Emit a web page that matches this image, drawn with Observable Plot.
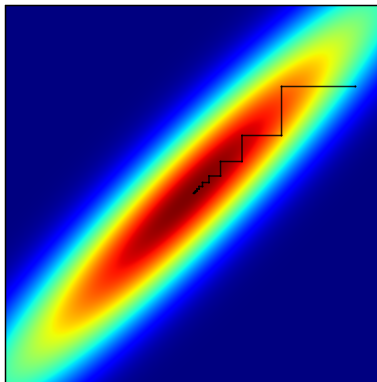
<!DOCTYPE html>
<html>
<head>
<meta charset="utf-8">
<script src="https://cdn.jsdelivr.net/npm/d3@7"></script>
<script src="https://cdn.jsdelivr.net/npm/@observablehq/plot@0.6"></script>
<style>
  html, body { margin: 0; padding: 0; background: #fff; }
  #chart svg { display: block; }
</style>
</head>
<body>
<div id="chart"></div>
<script>
// Coordinate-descent path vertices
const pathX = [1.763, 0.968, 0.968, 0.543, 0.543, 0.312, 0.312, 0.188, 0.188, 0.118, 0.118, 0.081, 0.081, 0.059, 0.059, 0.043, 0.043, 0.032, 0.032, 0.022];
const pathY = [1.141, 1.141, 0.621, 0.621, 0.345, 0.345, 0.191, 0.191, 0.122, 0.122, 0.080, 0.080, 0.053, 0.053, 0.032, 0.032, 0.018, 0.018, 0.007, 0.007];

// Field parameters (estimated)
const center = [-0.01, 0.0];
const coupling = [0.942];
const radius = [0.727];
const shape = [1.1];
const xDomain = [-2, 2];
const yDomain = [-2, 2];

const path = pathX.map((x, i) => ({x, y: pathY[i]}));

function field(x, y) {
  const u = x - center[0], v = y - center[1];
  const q = (u * u + v * v - 2 * coupling[0] * u * v) / (radius[0] * radius[0]);
  return Math.exp(-Math.pow(Math.max(q, 0), shape[0]));
}

function jet(t) {
  t = Math.max(0, Math.min(1, t));
  const seg = (pts) => {
    for (let i = 1; i < pts.length; i++) {
      if (t <= pts[i][0]) {
        const [a, va] = pts[i - 1], [b, vb] = pts[i];
        return va + (vb - va) * (t - a) / (b - a);
      }
    }
    return pts[pts.length - 1][1];
  };
  const r = seg([[0, 0], [0.35, 0], [0.66, 1], [0.89, 1], [1, 0.5]]);
  const g = seg([[0, 0], [0.125, 0], [0.375, 1], [0.64, 1], [0.91, 0], [1, 0]]);
  const b = seg([[0, 0.5], [0.11, 1], [0.34, 1], [0.65, 0], [1, 0]]);
  return `rgb(${Math.round(r * 255)},${Math.round(g * 255)},${Math.round(b * 255)})`;
}

const chart = Plot.plot({
  width: 377,
  height: 382,
  marginLeft: 5,
  marginTop: 5,
  marginRight: 0,
  marginBottom: 0,
  x: {domain: xDomain, axis: null},
  y: {domain: yDomain, axis: null},
  color: {type: "linear", domain: [0, 1], interpolate: jet, clamp: true},
  style: {background: "#fff"},
  marks: [
    Plot.raster({fill: field, x1: xDomain[0], x2: xDomain[1], y1: yDomain[0], y2: yDomain[1], pixelSize: 1}),
    Plot.line(path, {x: "x", y: "y", stroke: "#000", strokeWidth: 1.5, strokeOpacity: 0.85}),
    Plot.dot(path, {x: "x", y: "y", r: 1, fill: "#000", stroke: null}),
    Plot.ruleX([xDomain[0]], {stroke: "#000", strokeWidth: 1.5}),
    Plot.ruleY([yDomain[1]], {stroke: "#000", strokeWidth: 1.5})
  ]
});
document.getElementById("chart").appendChild(chart);
</script>
</body>
</html>
